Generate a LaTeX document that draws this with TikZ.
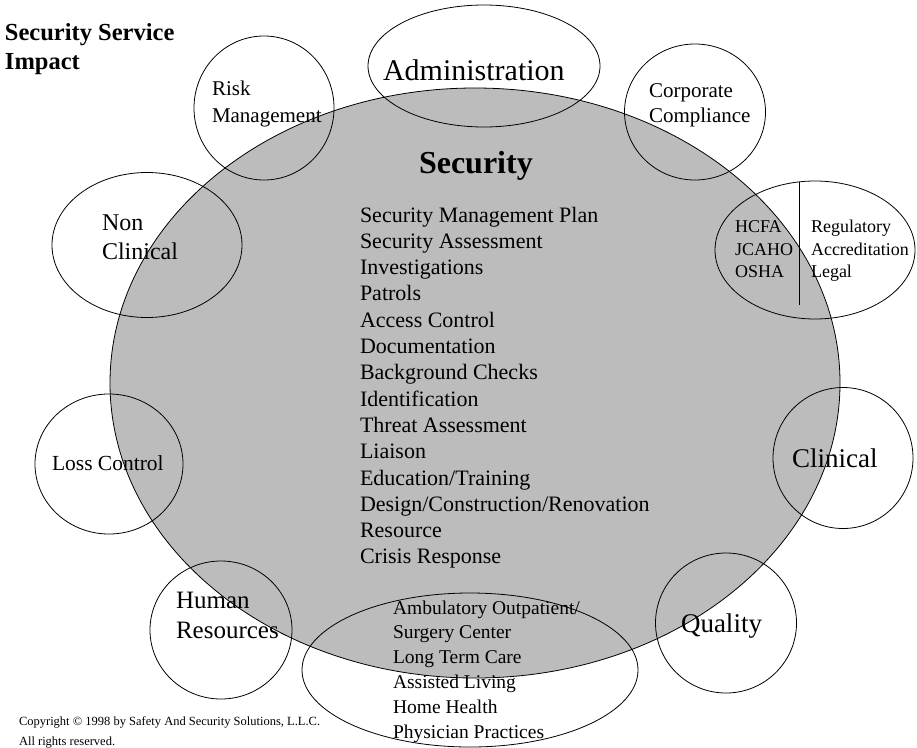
\documentclass[tikz,border=0pt]{standalone}
\usepackage{fontspec}
\setmainfont{Liberation Serif}
\usetikzlibrary{shapes.geometric}
\definecolor{secgray}{RGB}{188,188,188}
\begin{document}
\begin{tikzpicture}[x=1pt,y=-1pt,
  ring/.style={ellipse,draw=black,line width=0.8pt,inner sep=0pt},
  lbl/.style={anchor=base west,inner sep=0pt,outer sep=0pt},
  listtxt/.style={lbl,font=\fontsize{22}{26}\selectfont},
  subtxt/.style={lbl,font=\fontsize{19.5}{24}\selectfont}]
\useasboundingbox (0,0) rectangle (917,747);

% central security area
\node[ring,fill=secgray,minimum width=730pt,minimum height=590pt] (sec) at (475,383) {};

% surrounding service areas
\node[ring,minimum width=232pt,minimum height=122pt] (admin) at (484,66) {};
\node[ring,minimum width=140pt,minimum height=144pt] (risk) at (264,108) {};
\node[ring,minimum width=141pt,minimum height=136pt] (corp) at (695,112) {};
\node[ring,minimum width=200pt,minimum height=138pt] (reg) at (815,250) {};
\node[ring,minimum width=190pt,minimum height=145pt] (nonclin) at (147,245) {};
\node[ring,minimum width=148pt,minimum height=140pt] (loss) at (109,464) {};
\node[ring,minimum width=140pt,minimum height=141pt] (clin) at (843,458) {};
\node[ring,minimum width=142pt,minimum height=138pt] (hr) at (221,630) {};
\node[ring,minimum width=141pt,minimum height=140pt] (qual) at (726,623) {};
\node[ring,minimum width=336pt,minimum height=154pt] (sites) at (470,670) {};

% divider in the regulatory circle
\coordinate (divtop) at (799,182);
\coordinate (divbot) at (799,305);
\draw[line width=0.8pt] (divtop) -- (divbot);

% heading
\node[lbl,font=\bfseries\fontsize{24.5}{29}\selectfont] (t1) at (5,40) {Security Service};
\node[lbl,font=\bfseries\fontsize{24.5}{29}\selectfont] (t2) at (5,69) {Impact};

% labels of the surrounding areas
\node[lbl,font=\fontsize{30}{34}\selectfont] (admintxt) at (383,80) {Administration};
\node[lbl,font=\fontsize{21}{25}\selectfont] (risk1) at (212,95) {Risk};
\node[lbl,font=\fontsize{21}{25}\selectfont] (risk2) at (212,122) {Management};
\node[lbl,font=\fontsize{21}{25}\selectfont] (corp1) at (649,97) {Corporate};
\node[lbl,font=\fontsize{21}{25}\selectfont] (corp2) at (649,122) {Compliance};
\node[lbl,font=\fontsize{18}{22}\selectfont] (r1) at (735,232) {HCFA};
\node[lbl,font=\fontsize{18}{22}\selectfont] (r2) at (735,255) {JCAHO};
\node[lbl,font=\fontsize{18}{22}\selectfont] (r3) at (735,277) {OSHA};
\node[lbl,font=\fontsize{18}{22}\selectfont] (r4) at (811,232) {Regulatory};
\node[lbl,font=\fontsize{18}{22}\selectfont] (r5) at (811,255) {Accreditation};
\node[lbl,font=\fontsize{18}{22}\selectfont] (r6) at (811,277) {Legal};
\node[lbl,font=\fontsize{24}{29}\selectfont] (nc1) at (102,230) {Non};
\node[lbl,font=\fontsize{24}{29}\selectfont] (nc2) at (102,259) {Clinical};
\node[lbl,font=\fontsize{21.5}{26}\selectfont] (losstxt) at (52,470) {Loss Control};
\node[lbl,font=\fontsize{27}{32}\selectfont] (clintxt) at (792,467) {Clinical};
\node[lbl,font=\fontsize{25}{30}\selectfont] (hr1) at (176,608) {Human};
\node[lbl,font=\fontsize{25}{30}\selectfont] (hr2) at (176,638) {Resources};
\node[lbl,font=\fontsize{27}{32}\selectfont] (qualtxt) at (681,632) {Quality};

% security functions
\node[lbl,font=\bfseries\fontsize{32}{38}\selectfont] (sectitle) at (419,173) {Security};
\foreach \txt [count=\i from 0] in {Security Management Plan,Security Assessment,Investigations,Patrols,Access Control,Documentation,Background Checks,Identification,Threat Assessment,Liaison,Education/Training,Design/Construction/Renovation,Resource,Crisis Response}
  \node[listtxt] (item\i) at (360,222+26.3*\i) {\txt};

% care settings
\foreach \txt [count=\i from 0] in {Ambulatory Outpatient/,Surgery Center,Long Term Care,Assisted Living,Home Health,Physician Practices}
  \node[subtxt] (site\i) at (393,614+24.8*\i) {\txt};

% copyright
\node[lbl,font=\fontsize{12.5}{15}\selectfont] (copy1) at (19,725) {Copyright \textcopyright{} 1998 by Safety And Security Solutions, L.L.C.};
\node[lbl,font=\fontsize{12.5}{15}\selectfont] (copy2) at (19,745) {All rights reserved.};
\end{tikzpicture}
\end{document}
